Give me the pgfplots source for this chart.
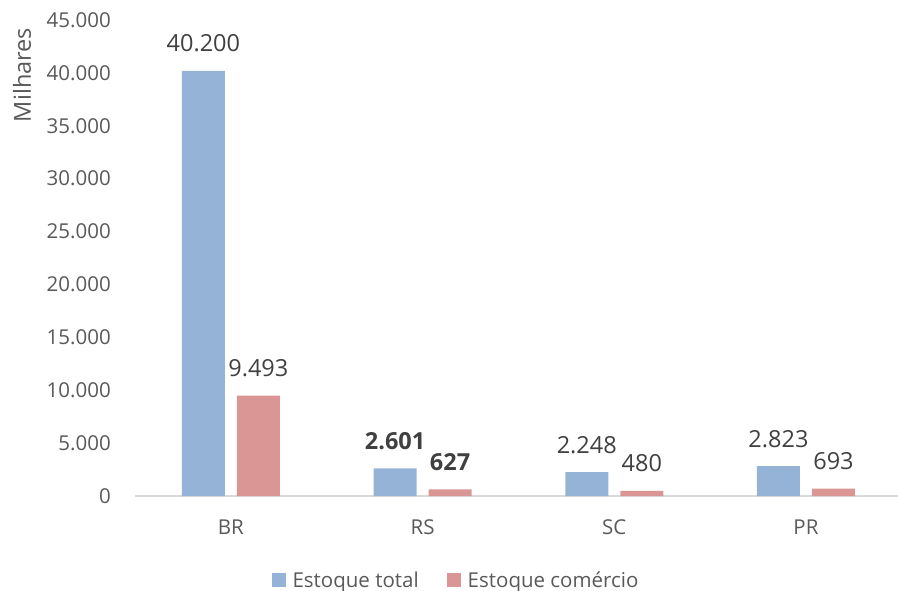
\documentclass[border=0pt]{standalone}
\usepackage{pgfplots}
\pgfplotsset{compat=1.18}
\usepackage{fontspec}
\setmainfont{Open Sans}
\definecolor{tblue}{HTML}{95B3D7}
\definecolor{tred}{HTML}{D99694}
\definecolor{txt}{HTML}{595959}
\definecolor{lbl}{HTML}{404040}
\definecolor{axl}{HTML}{D9D9D9}
\newcommand{\tickfont}{\fontsize{20.5bp}{24bp}\selectfont}
\newcommand{\lblfont}{\fontsize{23.5bp}{28bp}\selectfont}
\begin{document}
\begin{tikzpicture}
\begin{axis}[
  scale only axis, width=763bp, height=476bp,
  xmin=-0.5, xmax=3.48, ymin=0, ymax=45000,
  ybar,
  axis x line*=bottom, axis y line*=left,
  x axis line style={draw=axl, line width=1.3bp},
  y axis line style={draw=none},
  major tick length=0,
  ytick={0,5000,10000,15000,20000,25000,30000,35000,40000,45000},
  xtick={0,1,2,3}, xticklabels={BR,RS,SC,PR},
  scaled y ticks=false,
  /pgf/number format/.cd, 1000 sep={.}, assume math mode=true, /pgfplots/.cd,
  ticklabel style={font=\tickfont, text=txt, inner sep=0pt},
  yticklabel style={anchor=east, xshift=-24bp},
  xticklabel style={anchor=base, yshift=-38bp},
  legend image code/.code={\fill[#1] (0bp,-7bp) rectangle (14bp,7bp);},
  legend style={at={(0.4207,-0.1765)}, anchor=center, draw=none, fill=none,
    font=\tickfont, text=txt, legend columns=2,
    /tikz/every odd column/.append style={column sep=5bp},
    /tikz/every even column/.append style={column sep=26bp}},
  legend cell align=left,
  clip=false,
]
\addplot[fill=tblue, draw=none, bar width=43bp, bar shift=-27.5bp,
  point meta=explicit symbolic, nodes near coords,
  nodes near coords style={anchor=base, yshift=19bp, font=\lblfont, text=lbl}]
  coordinates {(0,40200) [40.200] (1,2601) [\textbf{2.601}] (2,2248) [2.248] (3,2823) [2.823]};
\addlegendentry{Estoque total}
\addplot[fill=tred, draw=none, bar width=43bp, bar shift=27.5bp,
  point meta=explicit symbolic, nodes near coords,
  nodes near coords style={anchor=base, yshift=19bp, font=\lblfont, text=lbl}]
  coordinates {(0,9493) [9.493] (1,627) [\textbf{627}] (2,480) [480] (3,693) [693]};
\addlegendentry{Estoque comércio}
\end{axis}
\node[rotate=90, font=\lblfont, text=txt, inner sep=0pt, anchor=center]
  at ([shift={(-113bp,421bp)}]current axis.south west) {Milhares};
\pgfresetboundingbox
\path ([shift={(-135bp,-95bp)}]current axis.south west) rectangle ([shift={(0bp,20bp)}]current axis.north east);
\end{tikzpicture}
\end{document}
